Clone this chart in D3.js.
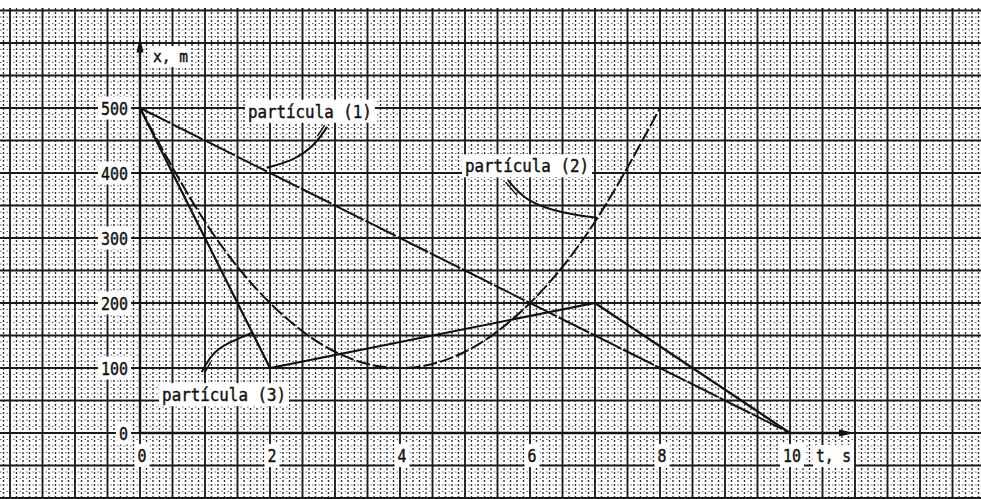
<!DOCTYPE html>
<html>
<head>
<meta charset="utf-8">
<script src="https://d3js.org/d3.v7.min.js"></script>
<style>
  body { margin: 0; background: #fff; }
  svg { display: block; }
  text { font-family: "DejaVu Sans Mono", "Liberation Mono", monospace; fill: #111; stroke: #111; stroke-width: 0.45px; }
</style>
</head>
<body>
<svg id="chart" width="981" height="499"></svg>
<script>
// tick labels
var tTicks = [0, 2, 4, 6, 8, 10];
var xTicks = [0, 100, 200, 300, 400, 500];

// particle 1: straight line
var p1T = [0, 10];
var p1X = [500, 0];

// particle 2: curve
var p2T = [0, 1, 2, 3, 4, 5, 6, 7, 8];
var p2X = [500, 325, 200, 125, 100, 125, 200, 325, 500];

// particle 3: broken line
var p3T = [0, 2, 7, 10];
var p3X = [500, 100, 200, 0];

// labels and their leader curves (in chart units)
var labels = ["partícula (1)", "partícula (2)", "partícula (3)"];
var labelT = [1.66, 5.0, 0.34];
var labelX = [485, 401, 49];
var leaders = [
  [[2.88, 471], [2.69, 443], [2.38, 420], [1.95, 408]],
  [[5.66, 389], [5.95, 355], [6.51, 338], [7.03, 331]],
  [[0.95, 94], [1.11, 123], [1.34, 138], [1.72, 154]]
];

var svg = d3.select("#chart");
var W = 981, H = 499;

var x = d3.scaleLinear().domain([0, 10]).range([140, 790]);
var y = d3.scaleLinear().domain([0, 500]).range([433, 108]);

// paper grid over the whole page
var tMin = x.invert(0), tMax = x.invert(W);
var vMin = y.invert(H), vMax = y.invert(8);
var grid = svg.append("g");

var minorT = d3.range(Math.ceil(tMin * 10), Math.floor(tMax * 10) + 1).map(function(d) { return d / 10; });
var minorV = d3.range(Math.ceil(vMin / 10), Math.floor(vMax / 10) + 1).map(function(d) { return d * 10; });

grid.selectAll(".mv").data(minorT).enter().append("line")
  .attr("x1", function(d) { return x(d); }).attr("x2", function(d) { return x(d); })
  .attr("y1", 8).attr("y2", H)
  .style("stroke", "#333").style("stroke-width", 1.4).style("stroke-dasharray", "2,2");
grid.selectAll(".mh").data(minorV).enter().append("line")
  .attr("x1", 0).attr("x2", W)
  .attr("y1", function(d) { return y(d); }).attr("y2", function(d) { return y(d); })
  .style("stroke", "#666").style("stroke-width", 1.1).style("stroke-dasharray", "1.5,5");

var majorT = minorT.filter(function(d) { return Math.abs(d * 2 - Math.round(d * 2)) < 1e-6; });
var majorV = minorV.filter(function(d) { return d % 50 === 0; });

grid.selectAll(".Mv").data(majorT).enter().append("line")
  .attr("x1", function(d) { return x(d); }).attr("x2", function(d) { return x(d); })
  .attr("y1", 8).attr("y2", H)
  .style("stroke", "#1a1a1a").style("stroke-width", 1.8);
grid.selectAll(".Mh").data(majorV).enter().append("line")
  .attr("x1", 0).attr("x2", W)
  .attr("y1", function(d) { return y(d); }).attr("y2", function(d) { return y(d); })
  .style("stroke", "#1a1a1a").style("stroke-width", 1.8);

// white boxes behind text, like on the sheet
function labelBox(g, txt, px, py, anchor, size, len) {
  var t = g.append("text").attr("x", px).attr("y", py)
    .attr("text-anchor", anchor).style("font-size", size + "px").text(txt);
  if (len) t.attr("textLength", len).attr("lengthAdjust", "spacingAndGlyphs");
  var b = t.node().getBBox();
  g.insert("rect", "text").attr("x", b.x - 3).attr("y", b.y - 1)
    .attr("width", b.width + 6).attr("height", b.height + 2).style("fill", "#fff");
  return t;
}

// axes
var axes = svg.append("g");
axes.append("line").attr("x1", x(0)).attr("x2", x(10.85)).attr("y1", y(0)).attr("y2", y(0))
  .style("stroke", "#111").style("stroke-width", 2.4);
axes.append("line").attr("x1", x(0)).attr("x2", x(0)).attr("y1", y(0)).attr("y2", y(595))
  .style("stroke", "#111").style("stroke-width", 2.4);
axes.append("path")
  .attr("d", "M" + x(11.0) + "," + y(0) + "L" + (x(11.0) - 16) + "," + (y(0) - 3.5) + "L" + (x(11.0) - 16) + "," + (y(0) + 3.5) + "Z")
  .style("fill", "#111");
axes.append("path")
  .attr("d", "M" + x(0) + "," + y(610) + "L" + (x(0) - 3.5) + "," + (y(610) + 16) + "L" + (x(0) + 3.5) + "," + (y(610) + 16) + "Z")
  .style("fill", "#111");

var tl = svg.append("g");
xTicks.forEach(function(v) {
  labelBox(tl, String(v), 128, y(v) + 6.5, "end", 18, String(v).length * 9);
});
tTicks.forEach(function(t) {
  labelBox(tl, String(t), x(t) + 2, 462, "middle", 18, String(t).length * 9);
});
labelBox(tl, "x, m", 153, 62, "start", 16, 35);
labelBox(tl, "t, s", 816, 462, "start", 17, 35);

// particle labels
var lg = svg.append("g");
labels.forEach(function(s, i) {
  labelBox(lg, s, x(labelT[i]), y(labelX[i]), "start", 18, 124);
});

// curves
var line = d3.line().x(function(d) { return x(d[0]); }).y(function(d) { return y(d[1]); });
var curves = svg.append("g").style("fill", "none").style("stroke", "#111");

curves.append("path").datum(d3.zip(p1T, p1X)).attr("d", line)
  .style("stroke-width", 2).style("stroke-dasharray", "34,2");
curves.append("path").datum(d3.zip(p2T, p2X)).attr("d", line.curve(d3.curveNatural))
  .style("stroke-width", 2).style("stroke-dasharray", "14,3");
line.curve(d3.curveLinear);
curves.append("path").datum(d3.zip(p3T, p3X)).attr("d", line)
  .style("stroke-width", 2.2);

// leaders with the little double stroke at the label end
var leadLine = d3.line().x(function(d) { return x(d[0]); }).y(function(d) { return y(d[1]); })
  .curve(d3.curveBasis);
leaders.forEach(function(pts) {
  curves.append("path").datum(pts).attr("d", leadLine).style("stroke-width", 2);
  var a = pts[0], b = pts[1];
  var dx = x(b[0]) - x(a[0]), dy = y(b[1]) - y(a[1]);
  var n = Math.sqrt(dx * dx + dy * dy);
  var ox = -dy / n * 3, oy = dx / n * 3;
  curves.append("path")
    .attr("d", "M" + (x(a[0]) + ox) + "," + (y(a[1]) + oy) + "L" + (x(a[0]) + dx * 0.6 + ox) + "," + (y(a[1]) + dy * 0.6 + oy))
    .style("stroke-width", 1.4);
});
</script>
</body>
</html>
